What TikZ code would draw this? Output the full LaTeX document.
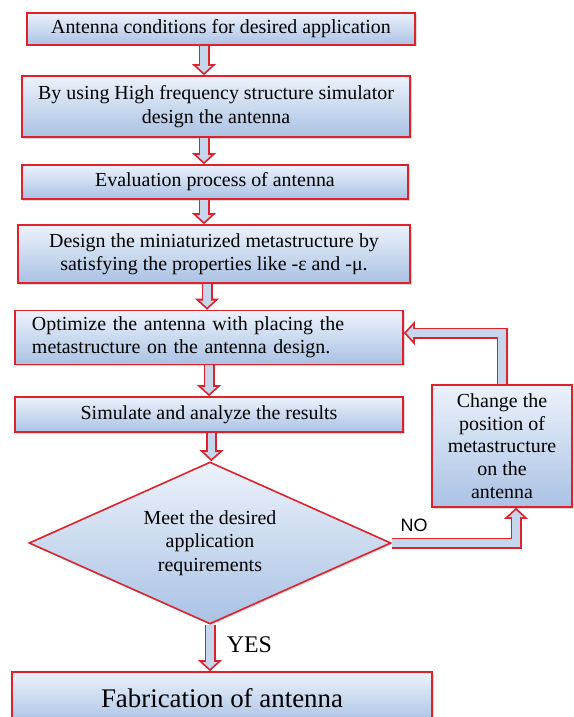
\documentclass[tikz,border=0pt]{standalone}
\usepackage{fontspec}
\setmainfont{Liberation Serif}
\newfontfamily\labelfont{Liberation Sans}
\usetikzlibrary{arrows.meta,shapes.geometric,shadows}
\definecolor{boxred}{RGB}{222,34,44}
\definecolor{boxtop}{RGB}{236,242,251}
\definecolor{boxbot}{RGB}{170,194,228}
\definecolor{arrfill}{RGB}{198,214,236}

\begin{document}
\begin{tikzpicture}[x=1bp, y=-1bp,
  box/.style={draw=boxred, line width=1.6bp, top color=boxtop, bottom color=boxbot,
    drop shadow={shadow xshift=1.5bp, shadow yshift=-1.5bp, opacity=0.3},
    align=center, inner sep=0pt, font=\fontsize{20}{23.5}\selectfont},
  decision/.style={box, diamond, aspect=2.2},
  hollow/.style={draw=boxred, line width=11bp, line join=miter,
    -{Triangle[width=24bp,length=11bp,line width=0pt]},
    postaction={draw=arrfill, line width=7.4bp, shorten >=2.4bp,
      -{Triangle[width=14.8bp,length=6.8bp,line width=0pt]}}}]
  \useasboundingbox (0,0) rectangle (574,717);

  % Steps
  \node[box, minimum width=388bp, minimum height=32bp] (cond) at (221,29) {Antenna conditions for desired application};
  \node[box, minimum width=388bp, minimum height=61bp] (hfss) at (216,106.5) {By using High frequency structure simulator\\design the antenna};
  \node[box, minimum width=386bp, minimum height=34bp] (eval) at (215,182) {Evaluation process of antenna};
  \node[box, minimum width=392bp, minimum height=58bp] (meta) at (214,254) {Design the miniaturized metastructure by\\satisfying the properties like -ε and -μ.};
  \node[box, minimum width=388bp, minimum height=54bp, text width=354bp, align=left] (opt) at (209,337.5) {Optimize the antenna with placing the\\metastructure on the antenna design.};
  \node[box, minimum width=388bp, minimum height=35bp] (sim) at (209,414.5) {Simulate and analyze the results};
  \node[box, minimum width=140bp, minimum height=122bp, font=\fontsize{20}{22.8}\selectfont] (chg) at (502,446) {Change the\\position of\\metastructure\\on the\\antenna};
  \node[decision, minimum width=362bp, minimum height=162bp] (meet) at (210,543) {Meet the desired\\application\\requirements};
  \node[box, minimum width=420bp, minimum height=52bp, font=\fontsize{27}{32}\selectfont] (fab) at (222,698) {Fabrication of antenna};

  % Arrows
  \coordinate (a1) at (204,0);
  \coordinate (a2) at (207,0);
  \coordinate (a3) at (209,0);
  \coordinate (a4) at (211.5,0);
  \draw[hollow] (cond.south -| a1) -- (hfss.north -| a1);
  \draw[hollow] (hfss.south -| a1) -- (eval.north -| a1);
  \draw[hollow] (eval.south -| a1) -- (meta.north -| a1);
  \draw[hollow] (meta.south -| a2) -- (opt.north -| a2);
  \draw[hollow] (opt.south -| a3) -- (sim.north -| a3);
  \draw[hollow] (sim.south -| a4) -- (meet.north -| a4);
  \draw[hollow] (meet.south) -- node[pos=0.42, right=8bp, font=\fontsize{24}{28}\selectfont] (yes) {YES} (meet.south |- fab.north);
  \draw[hollow] (meet.east) -| node[pos=0.09, above=3bp, font=\labelfont\fontsize{18}{20}\selectfont] (no) {NO} ([xshift=14bp]chg.south);
  \draw[hollow] (chg.north) |- ([yshift=4.5bp]opt.east);
\end{tikzpicture}
\end{document}
